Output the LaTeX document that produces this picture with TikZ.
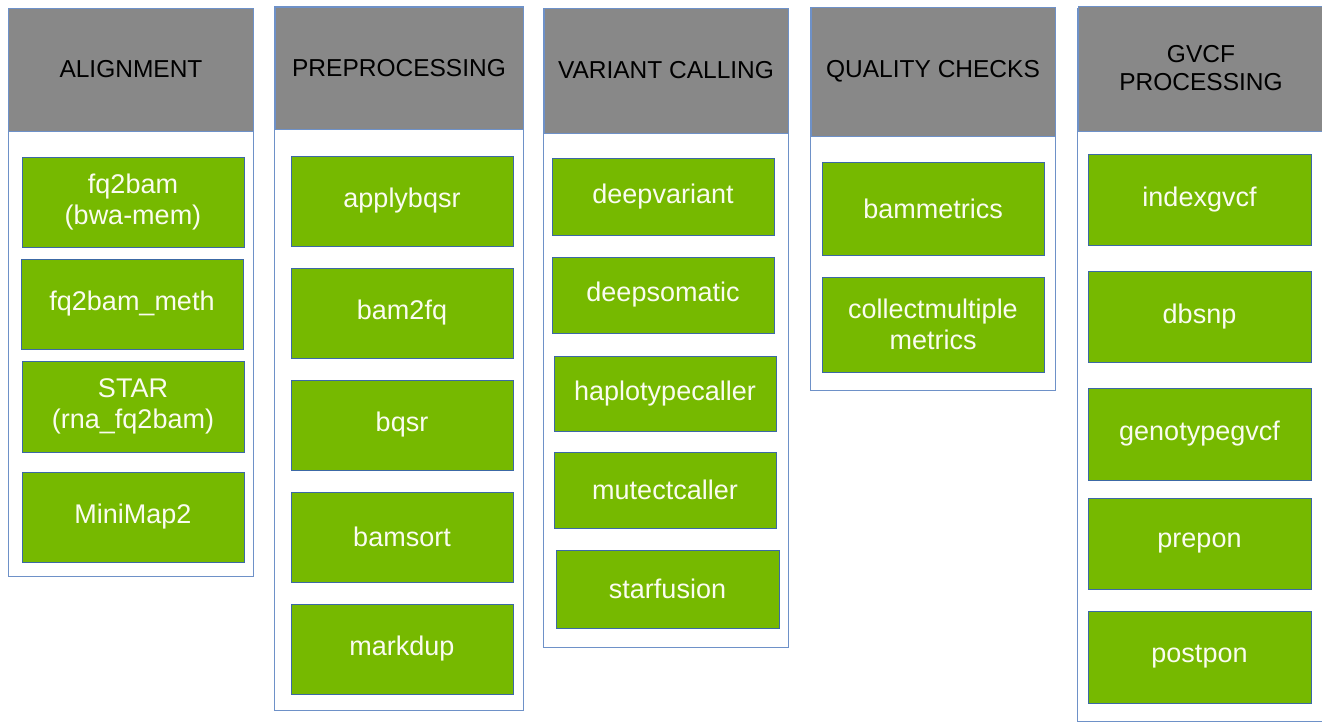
\documentclass[tikz,border=0pt]{standalone}
\usepackage{fontspec}
\setmainfont{Liberation Sans}
\definecolor{panelline}{RGB}{110,145,200}
\definecolor{taskline}{RGB}{60,105,165}
\definecolor{headfill}{RGB}{136,136,136}
\definecolor{taskfill}{RGB}{118,185,0}
\definecolor{tasktext}{RGB}{250,252,240}
\tikzset{
  panel/.style={draw=panelline, line width=0.9pt, fill=white},
  head/.style={draw=panelline, line width=0.6pt, fill=headfill, inner sep=0pt,
    align=center, text=black, font=\fontsize{24.5}{28}\selectfont},
  task/.style={draw=taskline, line width=0.8pt, fill=taskfill, inner sep=0pt,
    align=center, text=tasktext, font=\fontsize{27}{31}\selectfont},
}
\begin{document}
\begin{tikzpicture}[x=1pt, y=-1pt]
\useasboundingbox (0,0) rectangle (1322,722);

% ALIGNMENT
\draw[panel] (8,8) rectangle (253,576);
\node[head, minimum width=245, minimum height=123] (hA) at (131,69.5) {ALIGNMENT};
\node[task, minimum width=222, minimum height=90] (a1) at (133,202) {fq2bam\\(bwa-mem)};
\node[task, minimum width=222, minimum height=90] (a2) at (132,304) {fq2bam\_meth};
\node[task, minimum width=222, minimum height=91] (a3) at (133,406.5) {STAR\\(rna\_fq2bam)};
\node[task, minimum width=222, minimum height=90] (a4) at (133,517) {MiniMap2};

% PREPROCESSING
\draw[panel] (274,6) rectangle (523,710);
\node[head, minimum width=248, minimum height=122] (hP) at (399,68) {PREPROCESSING};
\node[task, minimum width=222, minimum height=90] (p1) at (402,201) {applybqsr};
\node[task, minimum width=222, minimum height=90] (p2) at (402,313) {bam2fq};
\node[task, minimum width=222, minimum height=90] (p3) at (402,425) {bqsr};
\node[task, minimum width=222, minimum height=90] (p4) at (402,537) {bamsort};
\node[task, minimum width=222, minimum height=90] (p5) at (402,649) {markdup};

% VARIANT CALLING
\draw[panel] (543,8) rectangle (788,647);
\node[head, minimum width=244, minimum height=125] (hV) at (666,70.5) {VARIANT CALLING};
\node[task, minimum width=222, minimum height=77] (v1) at (663,196.5) {deepvariant};
\node[task, minimum width=222, minimum height=76] (v2) at (663,295) {deepsomatic};
\node[task, minimum width=222, minimum height=75] (v3) at (665,393.5) {haplotypecaller};
\node[task, minimum width=222, minimum height=76] (v4) at (665,490) {mutectcaller};
\node[task, minimum width=223, minimum height=78] (v5) at (667.5,589) {starfusion};

% QUALITY CHECKS
\draw[panel] (810,7) rectangle (1055,390);
\node[head, minimum width=244, minimum height=129] (hQ) at (933,71.5) {QUALITY CHECKS};
\node[task, minimum width=222, minimum height=93] (q1) at (933,208.5) {bammetrics};
\node[task, minimum width=222, minimum height=95] (q2) at (933,324.5) {collectmultiple\\metrics};

% GVCF PROCESSING
\draw[panel] (1077,8) rectangle (1326,721);
\node[head, minimum width=246, minimum height=125] (hG) at (1201,68.5) {GVCF\\PROCESSING};
\node[task, minimum width=223, minimum height=91] (g1) at (1199.5,199.5) {indexgvcf};
\node[task, minimum width=223, minimum height=91] (g2) at (1199.5,316.5) {dbsnp};
\node[task, minimum width=223, minimum height=92] (g3) at (1199.5,434) {genotypegvcf};
\node[task, minimum width=223, minimum height=91] (g4) at (1199.5,543.5) {prepon};
\node[task, minimum width=223, minimum height=92] (g5) at (1199.5,657) {postpon};
\end{tikzpicture}
\end{document}
